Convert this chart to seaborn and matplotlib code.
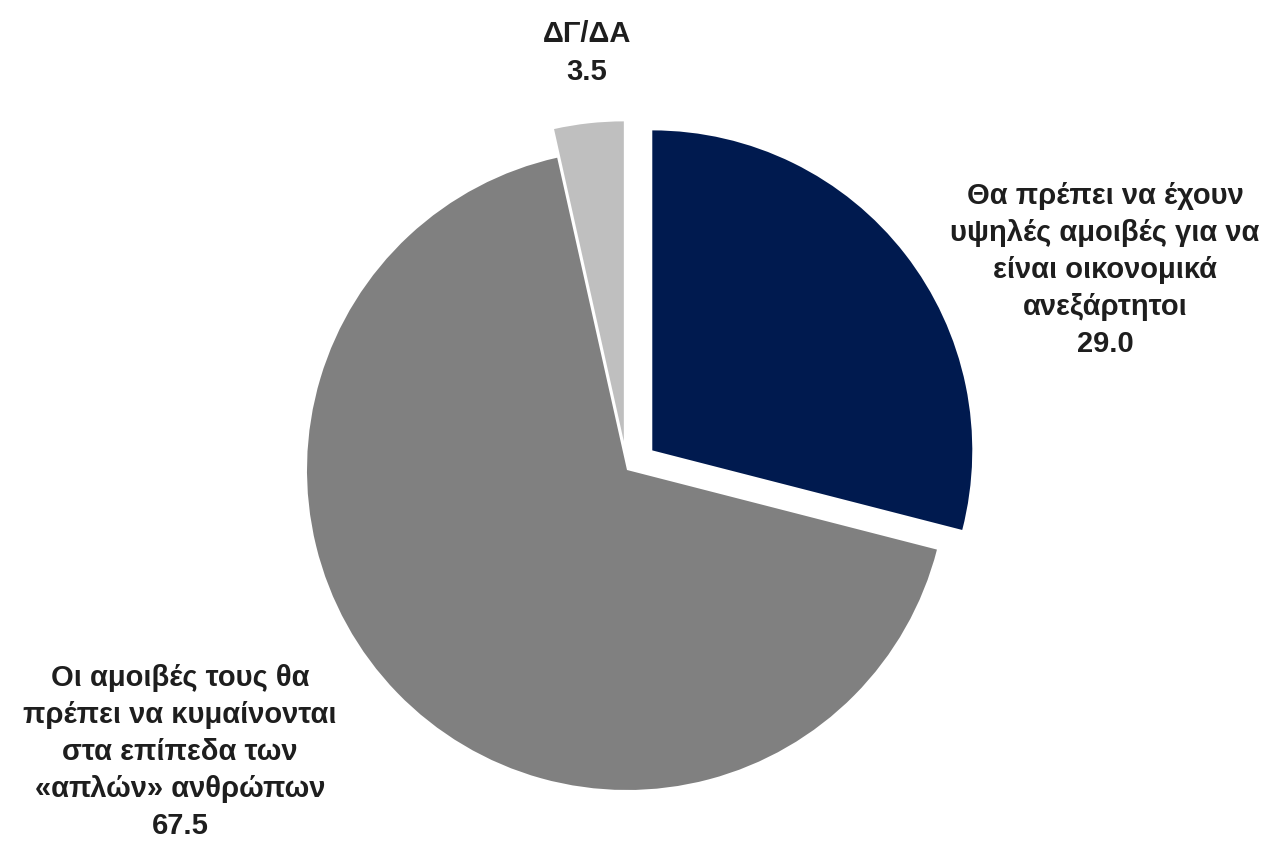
import matplotlib
matplotlib.use("Agg")
import matplotlib.pyplot as plt
import seaborn as sns

sns.set_theme(style="white")
plt.rcParams['font.family'] = ['Liberation Sans', 'DejaVu Sans']

# data
labels = [
    "Θα πρέπει να έχουν\nυψηλές αμοιβές για να\nείναι οικονομικά\nανεξάρτητοι",
    "Οι αμοιβές τους θα\nπρέπει να κυμαίνονται\nστα επίπεδα των\n«απλών» ανθρώπων",
    "ΔΓ/ΔΑ",
]
values = [29.0, 67.5, 3.5]
colors = ["#001A4F", "#808080", "#BFBFBF"]
explode_frac = [0.1, 0.0, 0.09]

W, H = 1268, 856
fig = plt.figure(figsize=(W / 100, H / 100), dpi=100)
ax = fig.add_axes([0, 0, 1, 1])

cx, cy, r = 627, H - 470, 320
ax.pie(values, colors=colors, explode=[f * r for f in explode_frac],
       startangle=90, counterclock=False,
       center=(cx, cy), radius=r, frame=True,
       wedgeprops=dict(linewidth=0))
ax.set_xlim(0, W)
ax.set_ylim(0, H)
ax.set_aspect('equal')
ax.axis('off')

txt = dict(fontsize=21, fontweight='bold', color='#1e1e1e', ha='center', va='center',
           linespacing=1.42)
ax.text(1105, H - 270, f"{labels[0]}\n{values[0]:.1f}", **txt)
ax.text(180, H - 752, f"{labels[1]}\n{values[1]:.1f}", **txt)
ax.text(587, H - 53, f"{labels[2]}\n{values[2]:.1f}", **txt)

fig.savefig("out.png", dpi=100)
